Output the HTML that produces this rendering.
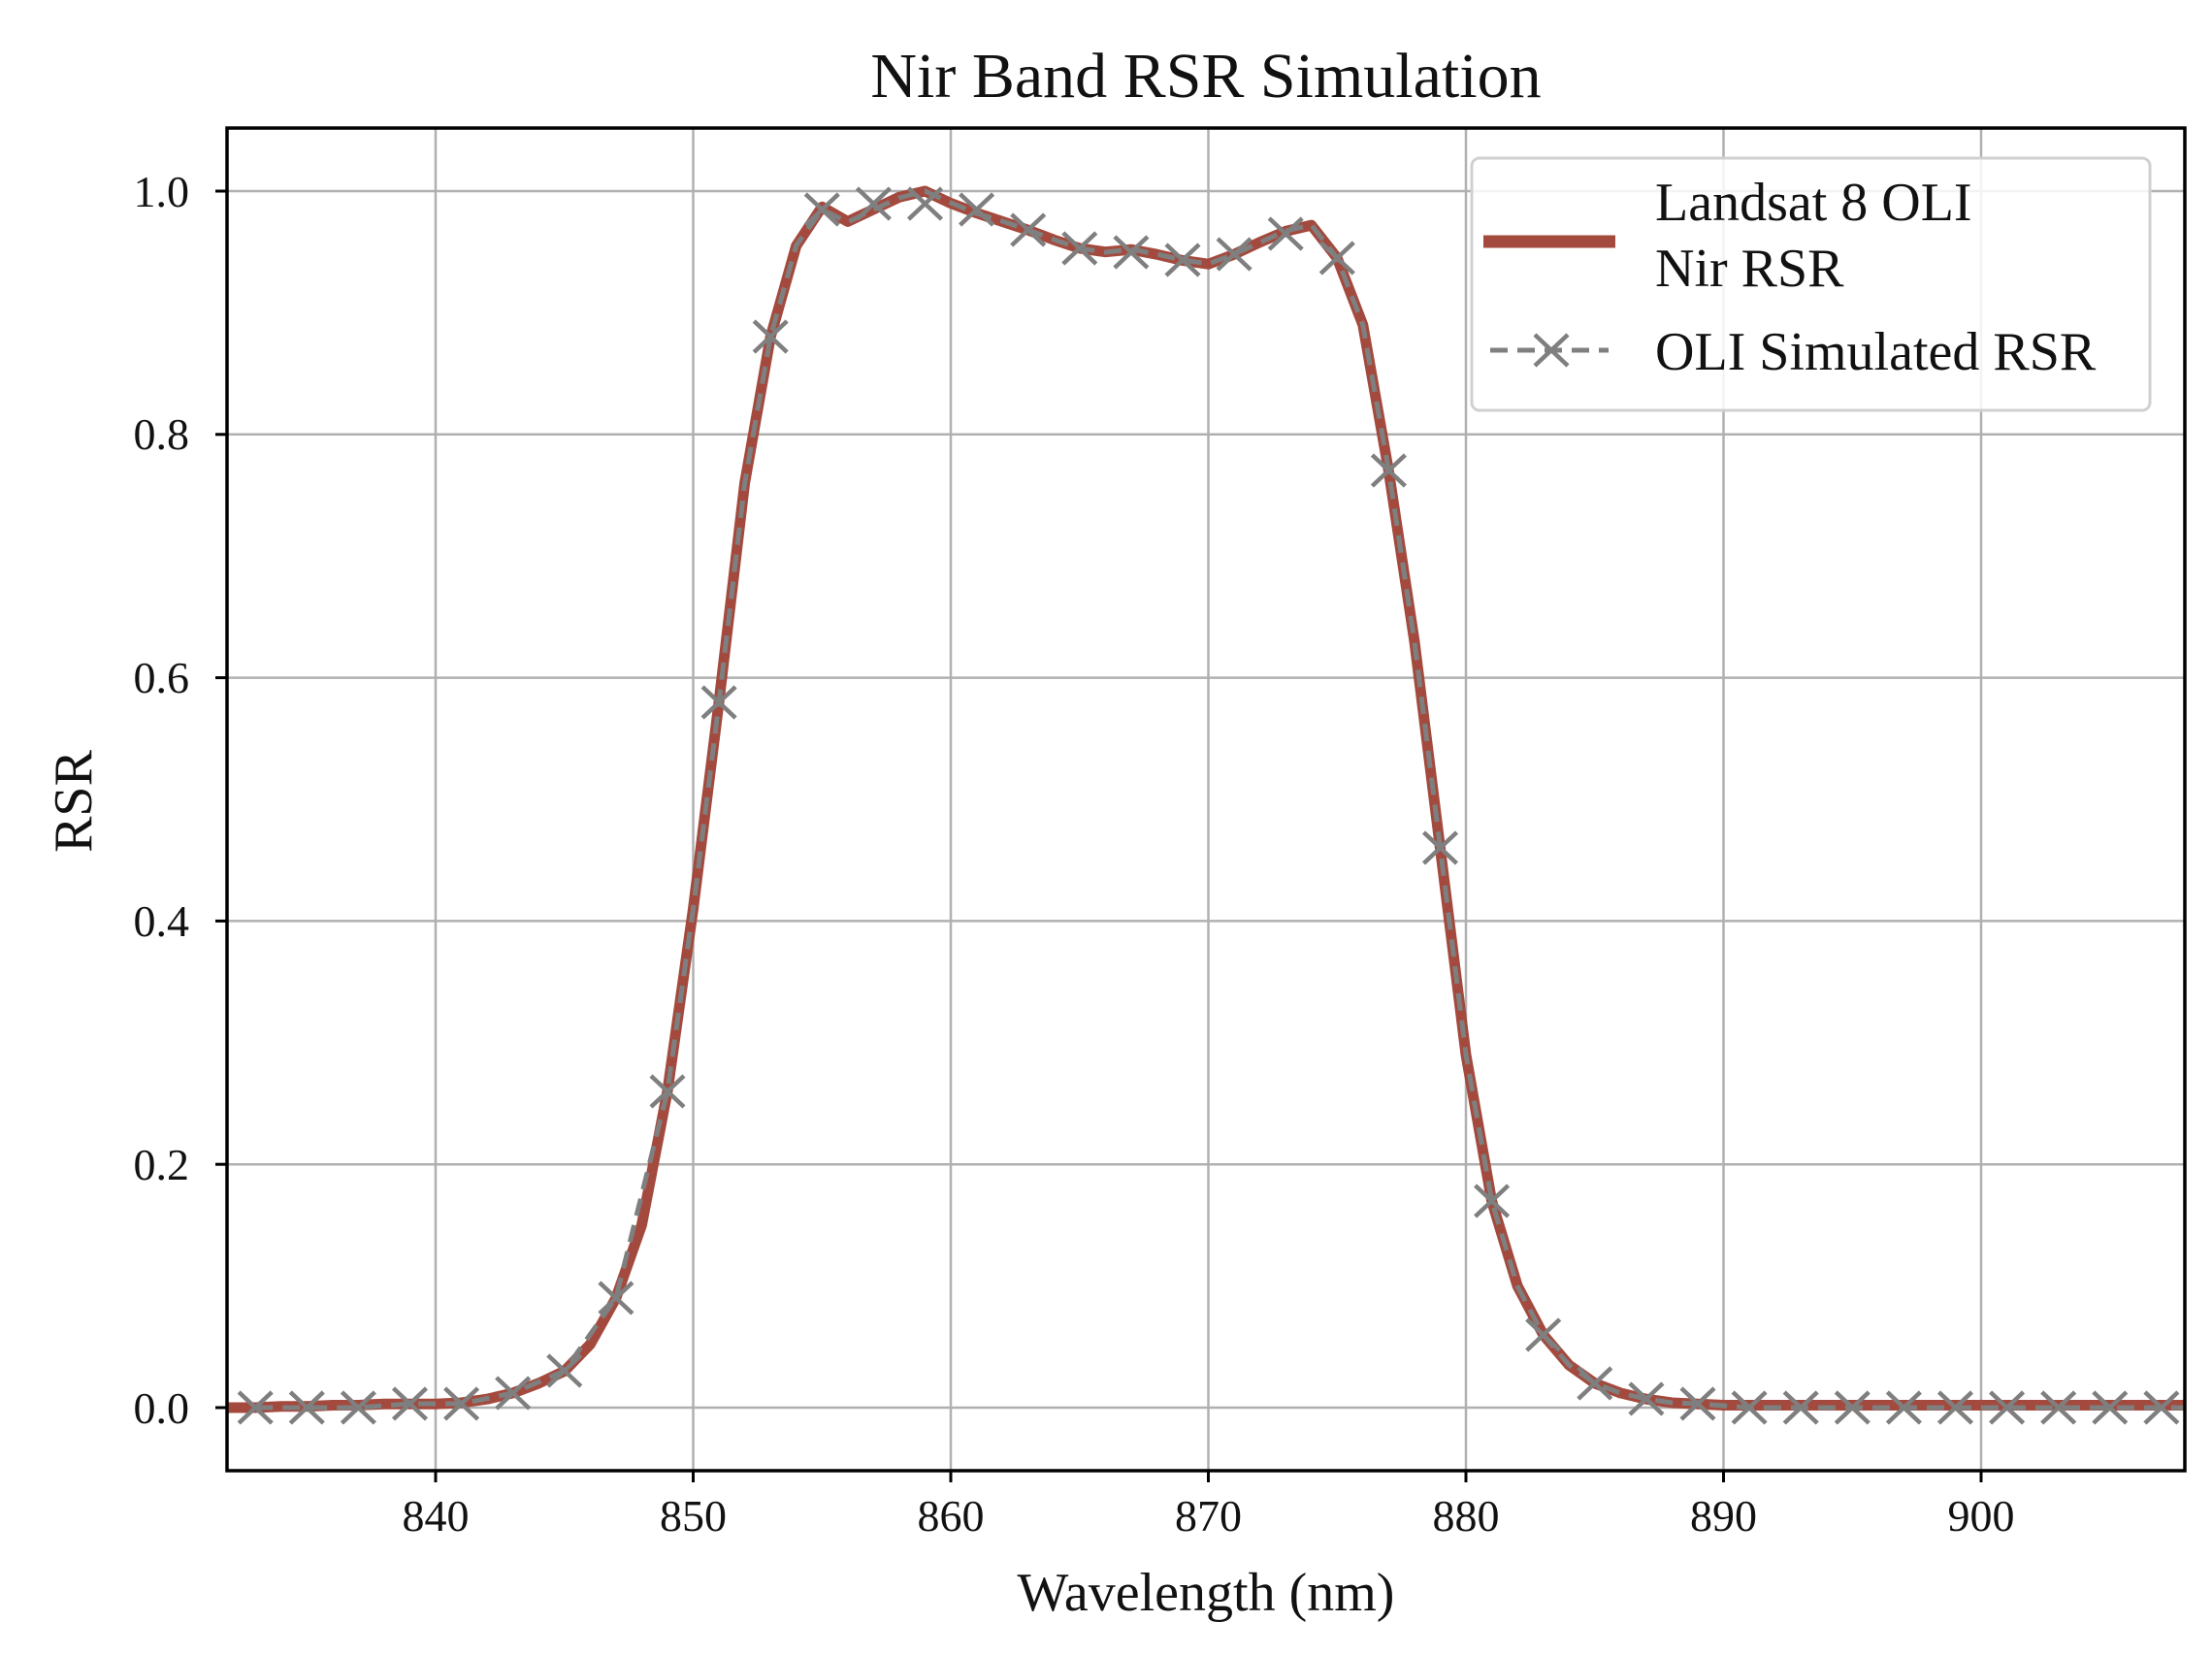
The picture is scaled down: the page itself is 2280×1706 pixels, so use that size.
<!DOCTYPE html>
<html><head><meta charset="utf-8"><style>
html,body{margin:0;padding:0;background:#fff;}
svg{display:block;}
text{font-family:"Liberation Serif","DejaVu Serif",serif;fill:#111;}
</style></head><body>
<svg width="2280" height="1706" viewBox="0 0 2280 1706" xmlns="http://www.w3.org/2000/svg">
<defs>
<path id="m" d="M-17,-16 L17,16 M-17,16 L17,-16" stroke="#7f7f7f" stroke-width="4.5" fill="none"/>
<clipPath id="ax"><rect x="234" y="132" width="2018" height="1384"/></clipPath>
</defs>
<text x="1243" y="100" font-size="66" text-anchor="middle">Nir Band RSR Simulation</text>
<g stroke="#b0b0b0" stroke-width="2.5">
<line x1="449" y1="132" x2="449" y2="1516"/>
<line x1="714.5" y1="132" x2="714.5" y2="1516"/>
<line x1="980" y1="132" x2="980" y2="1516"/>
<line x1="1245.5" y1="132" x2="1245.5" y2="1516"/>
<line x1="1511" y1="132" x2="1511" y2="1516"/>
<line x1="1776.5" y1="132" x2="1776.5" y2="1516"/>
<line x1="2042" y1="132" x2="2042" y2="1516"/>
<line x1="234" y1="1451" x2="2252" y2="1451"/>
<line x1="234" y1="1200.2" x2="2252" y2="1200.2"/>
<line x1="234" y1="949.4" x2="2252" y2="949.4"/>
<line x1="234" y1="698.6" x2="2252" y2="698.6"/>
<line x1="234" y1="447.8" x2="2252" y2="447.8"/>
<line x1="234" y1="197" x2="2252" y2="197"/>
</g>
<g clip-path="url(#ax)">
<g transform="translate(449,1451) scale(26.55,-1254)">
<polyline fill="none" stroke="#a4493d" stroke-width="11" vector-effect="non-scaling-stroke" stroke-linejoin="round"
points="-9,0 -8,0 -7,0 -6,0.001 -5,0.001 -4,0.002 -3,0.002 -2,0.003 -1,0.003 0,0.003 1,0.004 2,0.007 3,0.012 4,0.02 5,0.03 6,0.052 7,0.09 8,0.15 9,0.26 10,0.41 11,0.58 12,0.76 13,0.88 14,0.955 15,0.987 16,0.975 17,0.985 18,0.995 19,1.0 20,0.99 21,0.982 22,0.975 23,0.968 24,0.96 25,0.953 26,0.95 27,0.952 28,0.948 29,0.943 30,0.94 31,0.948 32,0.958 33,0.967 34,0.972 35,0.945 36,0.89 37,0.77 38,0.63 39,0.46 40,0.29 41,0.17 42,0.1 43,0.06 44,0.035 45,0.02 46,0.012 47,0.007 48,0.004 49,0.003 50,0.002 51,0.002 52,0.002 53,0.002 54,0.002 55,0.002 56,0.002 57,0.002 58,0.002 59,0.002 60,0.002 61,0.002 62,0.002 63,0.002 64,0.002 65,0.002 66,0.002 67,0.002 68,0.002 69,0.002"/>
</g>
<polyline fill="none" stroke="#7f7f7f" stroke-width="5" stroke-dasharray="18,10"
points="263.2,1451 316.3,1451 369.4,1451 422.5,1447 475.6,1447 528.7,1436 581.8,1413 634.9,1338 688,1125 714.5,937 741.1,724 767.6,498 794.2,347 820.7,253 847.3,216 873.8,229 900.4,216 926.9,204 953.5,197 980,209 1006.6,220 1033.1,228 1059.7,237 1086.2,247 1112.8,256 1139.3,260 1165.9,257 1192.4,262 1219,268 1245.5,272 1272.1,262 1298.6,250 1325.2,238 1351.7,232 1378.3,266 1404.8,335 1431.4,485 1457.9,661 1484.5,874 1511,1087 1537.6,1238 1564.1,1326 1590.7,1376 1617.2,1407 1643.8,1426 1670.3,1436 1696.9,1442 1723.4,1446 1750,1447 1803.1,1451 1856.2,1451 1909.3,1451 1962.4,1451 2015.5,1451 2068.6,1451 2121.7,1451 2174.8,1451 2227.9,1451 2252,1451"/>
<use href="#m" x="263.2" y="1451"/><use href="#m" x="316.3" y="1451"/><use href="#m" x="369.4" y="1451"/><use href="#m" x="422.5" y="1447"/><use href="#m" x="475.6" y="1447"/><use href="#m" x="528.7" y="1436"/><use href="#m" x="581.8" y="1413"/><use href="#m" x="634.9" y="1338"/><use href="#m" x="688" y="1125"/><use href="#m" x="741.1" y="724"/><use href="#m" x="794.2" y="347"/><use href="#m" x="847.3" y="216"/><use href="#m" x="900.4" y="210"/><use href="#m" x="953.5" y="210"/><use href="#m" x="1006.6" y="216"/><use href="#m" x="1059.7" y="237"/><use href="#m" x="1112.8" y="256"/><use href="#m" x="1165.9" y="260"/><use href="#m" x="1219" y="268"/><use href="#m" x="1272.1" y="262"/><use href="#m" x="1325.2" y="241"/><use href="#m" x="1378.3" y="266"/><use href="#m" x="1431.4" y="485"/><use href="#m" x="1484.5" y="874"/><use href="#m" x="1537.6" y="1238"/><use href="#m" x="1590.7" y="1376"/><use href="#m" x="1643.8" y="1426"/><use href="#m" x="1696.9" y="1442"/><use href="#m" x="1750" y="1447"/><use href="#m" x="1803.1" y="1451"/><use href="#m" x="1856.2" y="1451"/><use href="#m" x="1909.3" y="1451"/><use href="#m" x="1962.4" y="1451"/><use href="#m" x="2015.5" y="1451"/><use href="#m" x="2068.6" y="1451"/><use href="#m" x="2121.7" y="1451"/><use href="#m" x="2174.8" y="1451"/><use href="#m" x="2227.9" y="1451"/>
</g>
<rect x="234" y="132" width="2018" height="1384" fill="none" stroke="#000" stroke-width="3.5"/>
<g stroke="#000" stroke-width="3">
<line x1="449" y1="1516" x2="449" y2="1528"/><line x1="714.5" y1="1516" x2="714.5" y2="1528"/><line x1="980" y1="1516" x2="980" y2="1528"/><line x1="1245.5" y1="1516" x2="1245.5" y2="1528"/><line x1="1511" y1="1516" x2="1511" y2="1528"/><line x1="1776.5" y1="1516" x2="1776.5" y2="1528"/><line x1="2042" y1="1516" x2="2042" y2="1528"/>
<line x1="222" y1="1451" x2="234" y2="1451"/><line x1="222" y1="1200.2" x2="234" y2="1200.2"/><line x1="222" y1="949.4" x2="234" y2="949.4"/><line x1="222" y1="698.6" x2="234" y2="698.6"/><line x1="222" y1="447.8" x2="234" y2="447.8"/><line x1="222" y1="197" x2="234" y2="197"/>
</g>
<g font-size="46" text-anchor="middle">
<text x="449" y="1578">840</text><text x="714.5" y="1578">850</text><text x="980" y="1578">860</text><text x="1245.5" y="1578">870</text><text x="1511" y="1578">880</text><text x="1776.5" y="1578">890</text><text x="2042" y="1578">900</text>
</g>
<g font-size="46" text-anchor="end">
<text x="195" y="1467">0.0</text><text x="195" y="1216">0.2</text><text x="195" y="965">0.4</text><text x="195" y="714">0.6</text><text x="195" y="463">0.8</text><text x="195" y="213">1.0</text>
</g>
<text x="1243" y="1660" font-size="56" text-anchor="middle">Wavelength (nm)</text>
<text transform="translate(94,826) rotate(-90)" font-size="56" text-anchor="middle">RSR</text>
<rect x="1517" y="163" width="699" height="260" rx="8" fill="#fff" fill-opacity="0.85" stroke="#d0d0d0" stroke-width="3"/>
<line x1="1529" y1="249" x2="1665" y2="249" stroke="#a4493d" stroke-width="13"/>
<line x1="1536" y1="361" x2="1658" y2="361" stroke="#7f7f7f" stroke-width="5" stroke-dasharray="18,10"/>
<use href="#m" x="1599" y="361"/>
<g font-size="56">
<text x="1706" y="227">Landsat 8 OLI</text>
<text x="1706" y="295">Nir RSR</text>
<text x="1706" y="381">OLI Simulated RSR</text>
</g>
</svg>
</body></html>
